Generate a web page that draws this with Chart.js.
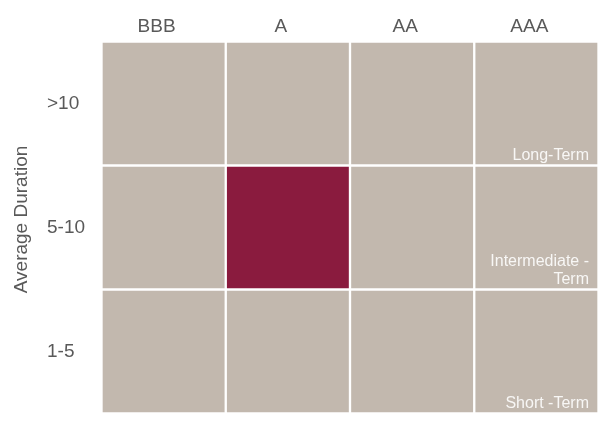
<!DOCTYPE html>
<html>
<head>
<meta charset="utf-8">
<script src="https://cdn.jsdelivr.net/npm/chart.js@4/dist/chart.umd.min.js"></script>
<style>
  html, body { margin: 0; padding: 0; background: #ffffff; }
  #wrap { width: 605px; height: 421px; position: relative; }
</style>
</head>
<body>
<div id="wrap"><canvas id="c"></canvas></div>
<script>
// ---- data ----
const creditQuality = ['BBB', 'A', 'AA', 'AAA'];
const durations = ['>10', '5-10', '1-5'];           // top to bottom
const cellValues = [
  [1, 1, 1, 1],   // >10
  [1, 1, 1, 1],   // 5-10
  [1, 1, 1, 1]    // 1-5
];
const fundCredit = 'A';
const fundDuration = '5-10';
const zoneLabels = [['Long-Term'], ['Intermediate -', 'Term'], ['Short -Term']];
const yTitle = 'Average Duration';

// ---- styles ----
const BEIGE = '#C2B8AE';
const RED = '#8A1B3E';
const TEXT = '#595959';
const FONT = "'Liberation Sans', Arial, sans-serif";

const datasets = durations.map((d, i) => ({
  label: d,
  data: cellValues[i],
  backgroundColor: ctx =>
    (creditQuality[ctx.dataIndex] === fundCredit && durations[ctx.datasetIndex] === fundDuration) ? RED : BEIGE,
  borderColor: '#ffffff',
  borderWidth: 1.5,
  borderSkipped: false,
  categoryPercentage: 1,
  barPercentage: 1
}));

const zonePlugin = {
  id: 'zoneLabels',
  afterLayout(chart) {
    const s = chart.scales.yTitleAxis;
    if (s) { s.bottom -= 16; }
  },
  afterDatasetsDraw(chart) {
    const ctx = chart.ctx;
    ctx.save();
    ctx.font = '16px ' + FONT;
    ctx.fillStyle = 'rgba(255,255,255,0.88)';
    ctx.textAlign = 'right';
    ctx.textBaseline = 'alphabetic';
    durations.forEach((d, i) => {
      const meta = chart.getDatasetMeta(i);
      const el = meta.data[creditQuality.length - 1];
      const p = el.getProps(['x', 'y', 'base', 'width'], true);
      const right = p.x + p.width / 2 - 1.5 - 8;
      const bottom = Math.max(p.y, p.base) - 1.5 - 4;
      const lines = zoneLabels[i];
      for (let k = lines.length - 1, n = 0; k >= 0; k--, n++) {
        ctx.fillText(lines[k], right, bottom - n * 18.5);
      }
    });
    ctx.restore();
  }
};

function noPad(scale) {
  scale.paddingTop = 0; scale.paddingBottom = 0;
  scale.paddingLeft = 0; scale.paddingRight = 0;
}

new Chart(document.getElementById('c'), {
  type: 'bar',
  data: { labels: creditQuality, datasets },
  plugins: [zonePlugin],
  options: {
    responsive: true,
    maintainAspectRatio: false,
    animation: false,
    events: [],
    layout: { padding: { top: 0, right: 6.5, bottom: 7.5, left: 0 } },
    plugins: { legend: { display: false }, tooltip: { enabled: false } },
    scales: {
      x: {
        type: 'category',
        position: 'top',
        stacked: true,
        grid: { display: false, drawTicks: false, tickLength: 0 },
        border: { display: false },
        ticks: {
          color: TEXT,
          font: { family: FONT, size: 19 },
          padding: 3,
          labelOffset: -7,
          maxRotation: 0
        },
        afterFit(scale) { scale.height = 41.5; noPad(scale); }
      },
      y: {
        type: 'linear',
        position: 'left',
        stacked: true,
        reverse: true,
        min: 0,
        max: 3,
        weight: 0,
        grid: { display: false, drawTicks: false, tickLength: 0 },
        border: { display: false },
        afterBuildTicks(scale) {
          scale.ticks = durations.map((d, i) => ({ value: i + 0.5 }));
        },
        ticks: {
          color: TEXT,
          font: { family: FONT, size: 19 },
          crossAlign: 'far',
          callback: (v, i) => durations[i]
        },
        afterFit(scale) { scale.width = 54.5; noPad(scale); }
      },
      yTitleAxis: {
        type: 'linear',
        position: 'left',
        weight: 1,
        grid: { display: false, drawTicks: false, tickLength: 0 },
        border: { display: false },
        ticks: { display: false },
        title: {
          display: true,
          text: yTitle,
          color: TEXT,
          font: { family: FONT, size: 19 },
          padding: { top: 10, bottom: 0 }
        },
        afterFit(scale) { scale.width = 47; noPad(scale); }
      }
    }
  }
});
</script>
</body>
</html>
